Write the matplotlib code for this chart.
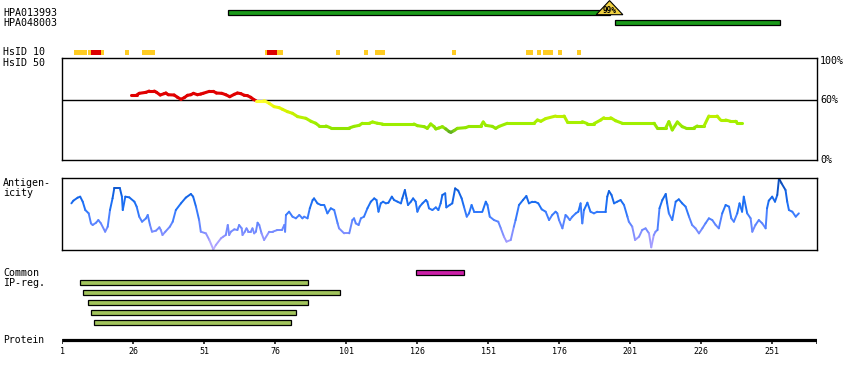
import matplotlib
matplotlib.use("Agg")
import matplotlib.pyplot as plt
import numpy as np
from matplotlib.collections import LineCollection
from matplotlib.colors import LinearSegmentedColormap
from matplotlib.patches import Rectangle, Polygon

# --- data ---
protein_len = 266
tick_residues = [1, 26, 51, 76, 101, 126, 151, 176, 201, 226, 251]

antibody_names = ["HPA013993", "HPA048003"]
antibody_start = [59.5, 195.6]
antibody_end = [193.8, 254.0]
antibody_identity = ["99%", None]

# HsID 10 matches: start, end, level ("mid" = yellow, "high" = red)
hsid10_start = [5.1, 10.1, 11.1, 14.6, 23.1, 29.1, 72.5, 73.2, 76.7, 97.5,
                107.4, 111.3, 138.4, 164.5, 168.4, 170.5, 175.5, 182.5]
hsid10_end = [9.7, 11.1, 14.6, 15.7, 24.5, 33.7, 73.2, 76.7, 78.8, 98.9,
              108.8, 114.8, 139.8, 167.0, 169.8, 174.0, 176.9, 183.9]
hsid10_level = ["mid", "mid", "high", "mid", "mid", "mid", "mid", "high", "mid", "mid",
                "mid", "mid", "mid", "mid", "mid", "mid", "mid", "mid"]

# sequence identity (%) along the protein
identity_res = [25.3, 27.2, 28.1, 30.5, 31.6, 33.4, 34.2, 35.5, 36.9, 37.5, 38.3, 40.4,
                41.6, 42.8, 44.0, 45.1, 46.3, 47.2, 48.6, 49.8, 50.6, 52.8, 54.2, 55.3,
                57.2, 58.6, 60.0, 61.6, 62.7, 63.9, 65.1, 66.2, 67.4, 68.3, 69.2, 72.1,
                73.9, 75.6, 77.4, 78.6, 80.3, 82.1, 83.9, 86.8, 88.6, 90.3, 91.5, 93.9,
                95.6, 102.1, 103.8, 105.6, 106.7, 109.1, 110.3, 112.0, 113.8, 124.9,
                126.1, 128.5, 129.6, 130.8, 132.0, 132.6, 133.7, 134.9, 136.1, 137.3,
                137.9, 139.0, 140.2, 143.1, 144.3, 148.4, 149.3, 150.2, 152.5, 153.7,
                154.9, 157.8, 167.2, 168.4, 169.6, 171.3, 174.8, 177.8, 178.9, 184.2,
                186.0, 188.3, 190.7, 191.8, 194.2, 195.9, 198.3, 209.5, 210.6, 213.6,
                214.7, 215.9, 217.7, 219.4, 220.6, 223.5, 224.7, 227.1, 228.8, 231.7,
                232.9, 234.7, 236.4, 238.2, 238.8, 240.5]
identity_pct = [65.3, 65.3, 67.0, 68.0, 69.3, 69.3, 68.0, 65.3, 66.7, 67.3, 65.6, 65.3,
                63.0, 61.0, 62.7, 65.0, 65.6, 67.0, 65.6, 66.3, 67.0, 69.0, 69.0, 67.3,
                67.0, 65.6, 63.6, 66.0, 67.3, 66.7, 65.0, 64.7, 63.0, 61.0, 59.7, 59.7,
                56.9, 53.6, 52.6, 50.9, 48.6, 46.9, 43.6, 41.9, 38.9, 36.9, 34.2, 34.2,
                32.2, 32.2, 33.8, 34.8, 36.9, 36.9, 38.2, 36.9, 36.2, 36.2,
                34.5, 33.5, 31.8, 36.2, 33.5, 31.2, 32.2, 33.5, 31.2, 28.5,
                27.8, 29.5, 31.8, 32.5, 33.8, 33.8, 38.2, 34.8, 33.8, 31.8,
                33.8, 36.9, 36.9, 40.2, 38.9, 41.6, 44.2, 44.2, 38.5, 38.5,
                36.5, 36.5, 40.2, 42.5, 42.5, 39.5, 36.9, 36.9, 32.2, 32.2,
                38.5, 30.2, 38.2, 33.5, 32.2, 32.2, 34.2, 34.2, 44.2, 44.2,
                40.2, 40.2, 38.9, 38.9, 36.9, 36.9]

# antigenicity score (0-100, relative)
antigen_res = [4.2, 4.9, 6.4, 7.3, 8.2, 9.1, 10.3, 11.1, 11.7, 12.9, 13.7, 14.6, 16.1,
               17.0, 17.8, 18.7, 19.3, 21.3, 22.0, 22.3, 23.2, 24.6, 26.4, 27.2, 28.1,
               29.1, 30.5, 31.1, 31.9, 32.6, 34.0, 35.2, 35.7, 36.3, 37.3, 38.9, 39.9,
               41.0, 42.8, 44.5, 46.3, 47.1, 48.1, 49.2, 49.8, 51.6, 52.8, 54.2, 55.1,
               56.9, 57.7, 58.6, 59.3, 59.8, 60.4, 61.6, 62.7, 63.3, 64.2, 64.5, 65.3,
               65.9, 66.6, 67.4, 68.0, 68.6, 69.2, 69.8, 70.4, 71.2, 72.1, 73.9, 75.1,
               76.8, 78.4, 79.2, 79.5, 79.8, 80.9, 82.1, 83.3, 84.5, 85.6, 86.2, 87.4,
               88.2, 89.2, 89.7, 90.9, 92.1, 93.3, 94.4, 95.6, 96.8, 98.0, 98.5, 100.3,
               102.1, 103.2, 103.8, 104.4, 105.4, 106.2, 107.3, 108.5, 109.7, 110.9,
               111.7, 112.4, 113.2, 114.0, 115.0, 115.9, 117.1, 117.9, 119.1, 120.3,
               120.8, 121.7, 122.3, 122.8, 123.8, 124.6, 125.5, 126.1, 126.9, 127.9,
               129.1, 129.6, 130.2, 131.4, 132.6, 133.5, 134.3, 134.9, 135.9, 136.3,
               137.5, 138.4, 139.4, 140.5, 141.7, 142.5, 143.5, 144.3, 145.2, 146.1,
               147.2, 149.0, 150.2, 150.8, 151.6, 153.1, 154.6, 155.5, 156.6, 157.5,
               159.0, 160.1, 160.7, 161.9, 163.3, 164.5, 165.4, 166.6, 167.5, 168.7,
               169.9, 171.3, 172.5, 173.6, 174.8, 175.4, 176.0, 177.2, 178.3, 178.9,
               179.8, 180.7, 181.9, 182.8, 183.6, 184.2, 184.8, 186.0, 187.1, 188.3,
               189.5, 192.4, 193.0, 193.6, 194.5, 195.4, 196.5, 197.7, 198.9, 200.1,
               200.6, 201.8, 202.8, 204.2, 205.3, 206.5, 207.7, 208.5, 209.4, 210.0,
               210.7, 211.4, 212.4, 213.6, 214.1, 214.7, 215.9, 217.1, 218.2, 219.4,
               220.6, 221.8, 222.9, 224.1, 225.3, 226.5, 227.6, 228.8, 230.0, 231.2,
               232.3, 233.5, 234.7, 235.9, 236.7, 237.6, 238.8, 239.6, 240.5, 241.1,
               242.3, 243.5, 244.1, 245.2, 246.4, 247.6, 248.8, 249.3, 249.9, 251.1,
               252.1, 252.9, 253.5, 254.4, 255.8, 256.4, 257.0, 258.2, 259.4, 260.5]
antigen_score = [64.8, 68.5, 72.7, 74.1, 67.1, 55.5, 50.9, 37.0, 34.7, 37.9, 41.6, 37.0, 25.4,
                 32.4, 55.5, 71.7, 85.6, 85.6, 74.1, 55.5, 74.1, 73.1, 67.1, 60.2, 46.3,
                 39.3, 44.0, 48.6, 34.7, 25.4, 26.8, 31.5, 27.8, 20.8, 25.4, 32.4, 39.3,
                 55.5, 64.8, 72.7, 77.8, 74.1, 60.2, 41.6, 25.4, 23.1, 13.9, 0.9, 6.9,
                 16.2, 18.5, 20.8, 34.7, 20.8, 25.4, 28.7, 27.8, 34.7, 30.1, 20.8, 25.4,
                 30.1, 25.4, 25.4, 30.1, 23.1, 25.4, 37.9, 34.7, 23.1, 13.9, 25.4, 25.4,
                 27.8, 27.8, 34.7, 25.4, 48.6, 53.2, 46.3, 44.0, 48.6, 44.0, 46.3, 44.0,
                 57.9, 69.4, 71.7, 64.8, 62.5, 62.5, 50.9, 57.9, 55.5, 37.0, 30.1, 23.1,
                 23.1, 41.6, 44.0, 37.0, 34.7, 44.0, 46.3, 57.9, 67.1, 71.7,
                 69.4, 53.2, 64.8, 67.1, 64.8, 65.7, 74.1, 69.4, 67.1, 64.8,
                 71.7, 83.3, 71.7, 62.5, 67.1, 71.7, 67.1, 53.2, 60.2, 64.8,
                 69.4, 67.1, 57.9, 55.5, 59.2, 55.5, 64.8, 76.4, 78.7, 59.2,
                 62.5, 64.8, 85.6, 82.4, 71.7, 60.2, 46.3, 50.9, 62.5, 53.2,
                 53.2, 53.2, 67.1, 62.5, 46.3, 41.6, 39.3, 30.1, 18.5, 11.6,
                 13.9, 32.4, 41.6, 62.5, 69.4, 75.0, 64.8, 67.1, 67.1, 64.8,
                 56.5, 53.2, 41.6, 48.6, 53.2, 50.9, 41.6, 30.1, 48.6, 46.3,
                 41.6, 46.3, 50.9, 53.2, 64.8, 37.0, 55.5, 65.7, 53.2, 50.9,
                 53.2, 53.2, 74.1, 81.9, 76.4, 64.8, 67.1, 69.4, 62.5, 46.3,
                 39.3, 32.4, 13.9, 18.5, 27.8, 30.1, 23.1, 3.7, 20.8, 25.4,
                 27.8, 57.9, 69.4, 77.8, 64.8, 50.9, 41.6, 67.1, 70.4, 64.8,
                 60.2, 46.3, 34.7, 30.1, 23.1, 30.1, 37.0, 44.0, 41.6, 34.7,
                 30.1, 50.9, 62.5, 60.2, 44.0, 39.3, 50.9, 64.8, 53.2, 74.1,
                 50.9, 44.0, 25.4, 34.7, 41.6, 37.0, 30.1, 57.9, 68.5, 74.1,
                 67.1, 76.4, 99.5, 92.6, 83.3, 67.1, 55.5, 53.2, 46.3, 50.9]

common_start = [125.5]
common_end = [142.7]
ipreg_start = [7.35, 8.4, 10.2, 11.2, 12.3]
ipreg_end = [87.4, 98.7, 87.4, 83.5, 81.4]

# --- layout (pixels) ---
W, H = 850, 380
X0, X1 = 62.3, 817.3
MONO = "DejaVu Sans Mono"

fig = plt.figure(figsize=(W / 100, H / 100), dpi=100)


def px_axes(x0, y0, x1, y1):
    return fig.add_axes([x0 / W, 1 - y1 / H, (x1 - x0) / W, (y1 - y0) / H])


def label(x, y, s, size=7.2, **kw):
    fig.text(x / W, 1 - y / H, s, fontsize=size, family=MONO, va="center", **kw)


# track axes: x = residue, y = pixel row
trk = px_axes(X0, 0, X1, H)
trk.set_xlim(1, protein_len + 1)
trk.set_ylim(H, 0)
trk.axis("off")

# antibodies
ab_rows = [10.3, 20.3]
for name, s, e, ident, y in zip(antibody_names, antibody_start, antibody_end,
                                antibody_identity, ab_rows):
    trk.add_patch(Rectangle((s, y), e - s, 4.4, facecolor="#1a9a1a",
                            edgecolor="black", linewidth=0.9))
    if ident:
        half = 4.7
        trk.add_patch(Polygon([(e - half, 14.7), (e, 0.6), (e + half, 14.7)],
                              closed=True, facecolor="#f0d040",
                              edgecolor="black", linewidth=0.8))
        trk.text(e, 10.3, ident, fontsize=5.6, family=MONO, fontweight="bold",
                 ha="center", va="center")
    label(3, y + 2.3, name)

# HsID 10
for s, e, lev in zip(hsid10_start, hsid10_end, hsid10_level):
    col = "#dd0000" if lev == "high" else "#ffcc22"
    trk.add_patch(Rectangle((s, 50), e - s, 5, facecolor=col, edgecolor="none"))
label(3, 52.3, "HsID 10")
label(3, 62.5, "HsID 50")

# common / IP regions
for s, e in zip(common_start, common_end):
    trk.add_patch(Rectangle((s, 270.3), e - s, 4.4, facecolor="#cc1fa8",
                            edgecolor="black", linewidth=0.9))
for i, (s, e) in enumerate(zip(ipreg_start, ipreg_end)):
    y = 280.3 + 10 * i
    trk.add_patch(Rectangle((s, y), e - s, 4.4, facecolor="#a2c45c",
                            edgecolor="black", linewidth=0.9))
label(3, 272.7, "Common")
label(3, 283, "IP-reg.")

# protein axis
trk.hlines(339.7, 1, protein_len + 1, color="black", linewidth=2.3)
trk.vlines(tick_residues + [protein_len + 1], 338.5, 343.5, color="black",
           linewidth=1.1)
for t in tick_residues:
    trk.text(t, 351.7, str(t), fontsize=6, family=MONO, ha="center", va="center")
label(3, 340, "Protein", size=7)

# identity panel
id_cmap = LinearSegmentedColormap.from_list("ident", [
    (0.0, "#3f8f1f"), (0.1, "#62b020"), (0.2, "#90e400"), (0.34, "#a0f000"),
    (0.6, "#c8f000"), (0.8, "#e6f800"), (1.0, "#ffff30")])
ax_id = px_axes(X0, 58.3, X1, 160)
ax_id.set_xlim(1, protein_len + 1)
ax_id.set_ylim(0, 102.2)
ax_id.axhline(60, color="black", linewidth=1.0)
pts = np.column_stack([identity_res, identity_pct])
segs = np.stack([pts[:-1], pts[1:]], axis=1)
mids = (pts[:-1, 1] + pts[1:, 1]) / 2
cols = ["#e00000" if m >= 60 else id_cmap(np.clip((m - 25) / 35, 0, 1)) for m in mids]
ax_id.add_collection(LineCollection(segs, colors=cols, linewidths=2.2,
                                    capstyle="round"))
ax_id.set_xticks([])
ax_id.set_yticks([])
for sp in ax_id.spines.values():
    sp.set_linewidth(1.0)
for v, s in [(100, "100%"), (60, "60%"), (0, "0%")]:
    label(820, 160 - v * 0.995, s)

# antigenicity panel
ag_cmap = LinearSegmentedColormap.from_list("antigen", [
    (0.0, "#c2b2ff"), (0.15, "#9c98ff"), (0.3, "#6c88ff"), (0.45, "#4880ff"),
    (0.6, "#1f72f8"), (0.8, "#1060e0"), (1.0, "#0840a0")])
ax_ag = px_axes(X0, 178.3, X1, 250)
ax_ag.set_xlim(1, protein_len + 1)
ax_ag.set_ylim(0, 99.6)
pts = np.column_stack([antigen_res, antigen_score])
segs = np.stack([pts[:-1], pts[1:]], axis=1)
mids = (pts[:-1, 1] + pts[1:, 1]) / 2
ax_ag.add_collection(LineCollection(segs, colors=ag_cmap(mids / 100), linewidths=1.4,
                                    capstyle="round"))
ax_ag.set_xticks([])
ax_ag.set_yticks([])
for sp in ax_ag.spines.values():
    sp.set_linewidth(1.0)
label(3, 183, "Antigen-")
label(3, 193.3, "icity")

fig.savefig("out.png", dpi=100)
